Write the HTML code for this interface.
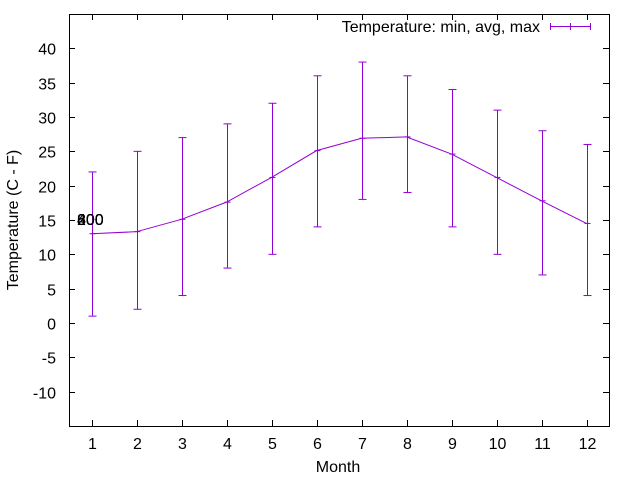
<!DOCTYPE html>
<html><head><meta charset="utf-8"><style>
body{margin:0;background:#fff}
svg{display:block;font-family:"Liberation Sans",sans-serif}
</style></head><body>
<svg id="c" width="640" height="480" viewBox="0 0 640 480">
<rect width="640" height="480" fill="#fff"/>
<g id="axes"></g>
<g id="series"></g>
<rect x="69.5" y="14.5" width="540" height="412" fill="none" stroke="#000" stroke-width="1"/>
<text x="18" y="220" font-size="16" text-anchor="middle" transform="rotate(-90 18 220)">Temperature (C - F)</text>
<text x="338" y="472" font-size="16" text-anchor="middle">Month</text>
<g font-size="16" fill="#000">
<text x="77" y="225">200</text><text x="77" y="225">400</text><text x="77" y="225">600</text><text x="77" y="225">800</text>
</g>
<g>
<text x="540" y="32" font-size="16" text-anchor="end">Temperature: min, avg, max</text>
<g stroke="#9400d3" stroke-width="1">
<line x1="550" y1="26.5" x2="591" y2="26.5"/><line x1="550.5" y1="23" x2="550.5" y2="30"/><line x1="570.5" y1="23" x2="570.5" y2="30"/><line x1="590.5" y1="23" x2="590.5" y2="30"/>
</g></g>
</svg>
<script>
const months=[1,2,3,4,5,6,7,8,9,10,11,12];
const avgTemps=[13,13.3,15.1,17.6,21.2,25.1,26.9,27.1,24.6,21.2,17.8,14.5];
const minTemps=[1,2,4,8,10,14,18,19,14,10,7,4];
const maxTemps=[22,25,27,29,32,36,38,36,34,31,28,26];
const yTicks=[-10,-5,0,5,10,15,20,25,30,35,40];
const NS="http://www.w3.org/2000/svg";
const X=v=>69+(v-0.5)/12*540, Y=v=>426-(v+15)/60*412;
function mk(t,a,p){const e=document.createElementNS(NS,t);for(const k in a)e.setAttribute(k,a[k]);p.appendChild(e);return e;}
const ax=document.getElementById('axes'), se=document.getElementById('series');
yTicks.forEach(v=>{const y=Math.round(Y(v))+0.5;
 const l=mk('line',{x1:69,x2:75,y1:y,y2:y,stroke:'#000'},ax);
 
 
 const r=mk('line',{x1:603,x2:609,y1:y,y2:y,stroke:'#000'},ax);
 
 
 const t=mk('text',{x:56,y:y+6,'font-size':16,'text-anchor':'end'},ax);t.textContent=v;
 
 });
months.forEach(m=>{const x=Math.round(X(m))+0.5;
 const l=mk('line',{x1:x,x2:x,y1:420,y2:426,stroke:'#000'},ax);
 
 
 const u=mk('line',{x1:x,x2:x,y1:14,y2:20,stroke:'#000'},ax);
 
 
 const t=mk('text',{x:x,y:449,'font-size':16,'text-anchor':'middle'},ax);t.textContent=m;
 
 });
const pl=mk('polyline',{points:months.map((m,i)=>X(m)+','+Y(avgTemps[i])).join(' '),fill:'none',stroke:'#9400d3','stroke-width':1},se);


months.forEach((m,i)=>{const x=Math.round(X(m))+0.5,g=mk('g',{stroke:'#9400d3','stroke-width':1},se);
 
 
 mk('line',{x1:x,x2:x,y1:Y(minTemps[i]),y2:Y(maxTemps[i])},g);
 mk('line',{x1:x-4,x2:x+4,y1:Y(minTemps[i]),y2:Y(minTemps[i])},g);
 mk('line',{x1:x-4,x2:x+4,y1:Y(maxTemps[i]),y2:Y(maxTemps[i])},g);
 mk('line',{x1:x-3,x2:x+3,y1:Y(avgTemps[i]),y2:Y(avgTemps[i])},g);});
</script>
</body></html>
